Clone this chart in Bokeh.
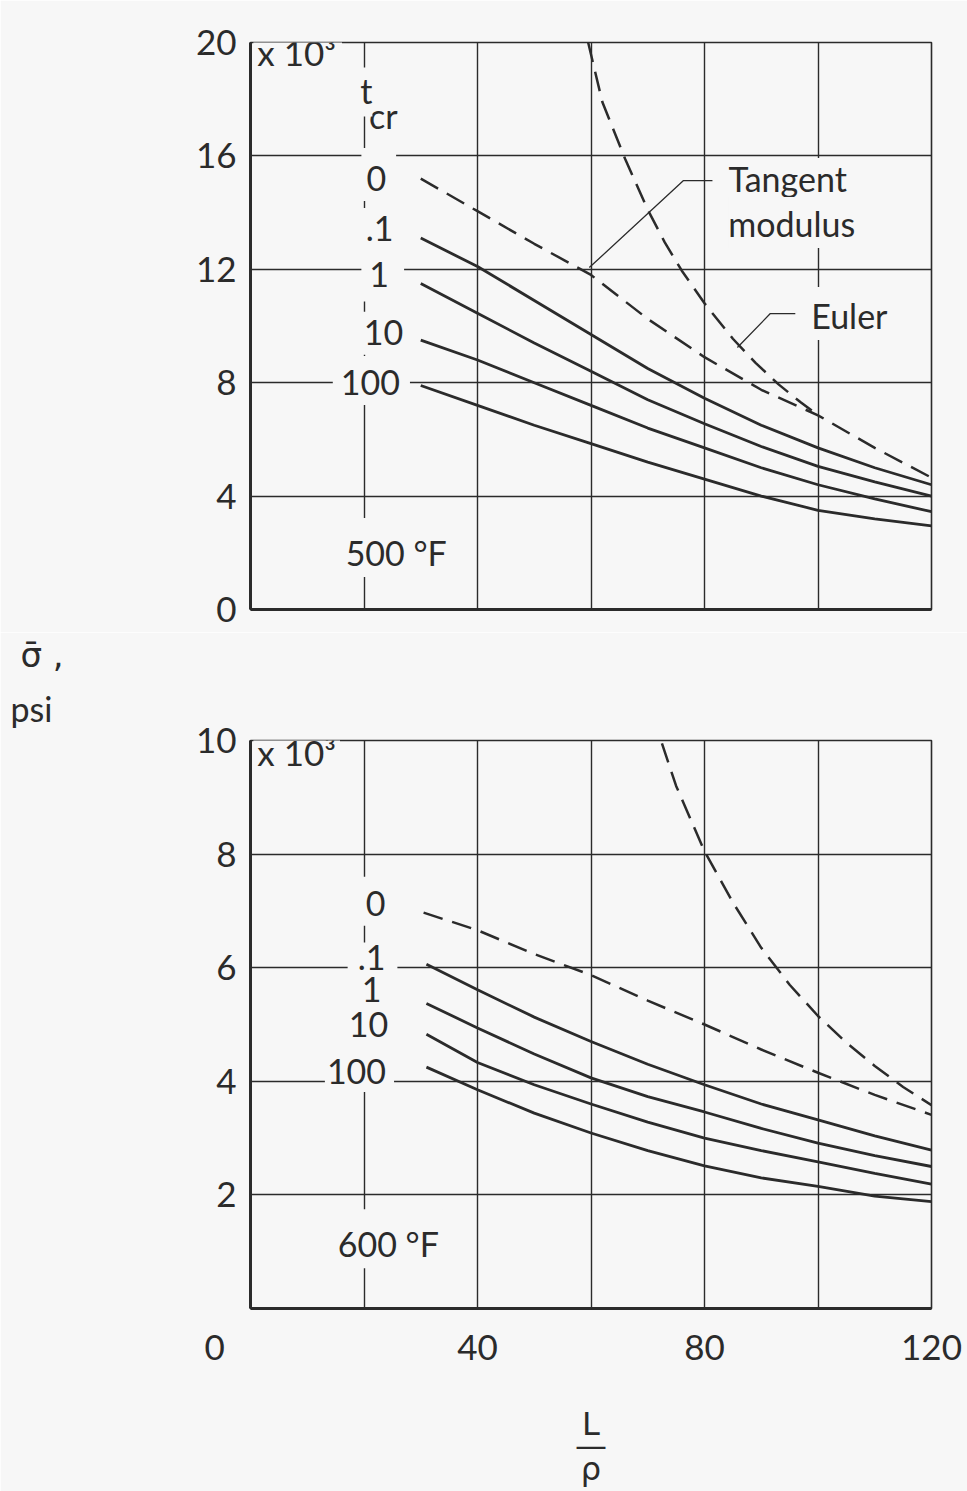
from bokeh.plotting import figure
from bokeh.layouts import column
from bokeh.models import Range1d, FixedTicker, Label, Title
from bokeh.embed import file_html
from bokeh.resources import INLINE

# ---------------- data ----------------
# upper panel: 500 F   (L/rho, sigma-bar in psi)
top_x = [30, 40, 50, 60, 70, 80, 90, 100, 110, 120]
top_tangent = [15200, 14050, 12900, 11800, 10250, 8900, 7750, 6850, 5700, 4650]
top_t01 = [13100, 12100, 10900, 9700, 8500, 7450, 6500, 5700, 5000, 4400]
top_t1 = [11500, 10450, 9400, 8400, 7400, 6550, 5750, 5050, 4500, 4000]
top_t10 = [9500, 8800, 8000, 7200, 6400, 5700, 5000, 4400, 3900, 3450]
top_t100 = [7900, 7200, 6500, 5850, 5200, 4600, 4000, 3500, 3200, 2950]
top_euler_x = [59.5, 62, 66, 70, 73, 76, 80, 85, 89, 93, 97, 100]
top_euler = [20000, 17900, 15900, 14100, 12950, 11950, 10800, 9550, 8700, 7950, 7300, 6850]

# lower panel: 600 F
bot_tan_x = [30.5, 40, 50, 60, 70, 80, 90, 100, 110, 120]
bot_tangent = [6970, 6660, 6240, 5870, 5420, 5000, 4560, 4150, 3760, 3410]
bot_x = [31, 40, 50, 60, 70, 80, 90, 100, 110, 120]
bot_t01 = [6060, 5610, 5130, 4700, 4300, 3940, 3600, 3320, 3040, 2790]
bot_t1 = [5370, 4940, 4480, 4060, 3730, 3460, 3170, 2910, 2690, 2500]
bot_t10 = [4830, 4330, 3940, 3600, 3280, 3000, 2780, 2580, 2380, 2190]
bot_t100 = [4250, 3850, 3440, 3090, 2780, 2510, 2300, 2150, 1980, 1880]
bot_euler_x = [72.5, 75, 80, 85, 90, 95, 100, 105, 110, 115, 120]
bot_euler = [9950, 9200, 8050, 7150, 6350, 5700, 5150, 4680, 4270, 3900, 3580]

top_yticks = [0, 4000, 8000, 12000, 16000, 20000]
top_ylabels = ["0", "4", "8", "12", "16", "20"]
bot_yticks = [2000, 4000, 6000, 8000, 10000]
bot_ylabels = ["2", "4", "6", "8", "10"]
x_ticks = [0, 40, 80, 120]
x_labels = ["0" + "\u00a0" * 8, "40", "80", "120"]
grid_x = [20, 40, 60, 80, 100]

t_cr_labels = ["0", ".1", "1", "10", "100"]

# ---------------- styling ----------------
BG = "#f7f7f7"
INK = "#2b2b2b"
FONT = "Lato"


def make_fig(height, ymax, btop, bbot, yticks, ylabels, grid_y):
    p = figure(width=967, height=height, title=None,
               x_range=Range1d(0, 120), y_range=Range1d(0, ymax),
               output_backend="svg", toolbar_location=None,
               min_border_left=250, min_border_right=36,
               min_border_top=btop, min_border_bottom=bbot,
               background_fill_color=BG, border_fill_color=BG)
    p.outline_line_color = INK
    p.outline_line_width = 1.6
    p.xgrid.ticker = FixedTicker(ticks=grid_x)
    p.ygrid.ticker = FixedTicker(ticks=grid_y)
    p.grid.grid_line_color = INK
    p.grid.grid_line_width = 1.4
    p.grid.grid_line_alpha = 1.0
    for ax in (p.xaxis[0], p.yaxis[0]):
        ax.axis_line_color = INK
        ax.axis_line_width = 3
        ax.major_tick_line_color = None
        ax.minor_tick_line_color = None
        ax.major_tick_out = 0
        ax.minor_tick_out = 0
        ax.major_label_text_font = FONT
        ax.major_label_text_font_size = "35px"
        ax.major_label_text_color = INK
    p.yaxis.ticker = FixedTicker(ticks=yticks)
    p.yaxis.major_label_overrides = {t: l for t, l in zip(yticks, ylabels)}
    p.yaxis.major_label_standoff = 14
    return p


def lab(p, x, y, text, size="34px", align="center", pad=4, font=FONT):
    p.add_layout(Label(x=x, y=y, text=text, text_font=font, text_font_size=size,
                       text_color=INK, text_align=align, text_baseline="middle",
                       background_fill_color=BG, padding=pad))


def side_title(p, text, side, align="left", offset=0, size="34px", font=FONT,
               style="normal", standoff=0):
    p.add_layout(Title(text=text, align=align, offset=offset, text_font=font,
                       text_font_size=size, text_font_style=style,
                       text_color=INK, standoff=standoff), side)


def curves(p, x_sol, sols, x_tan, tan, x_eu, eu):
    for ys in sols:
        p.line(x_sol, ys, line_color=INK, line_width=2.8)
    p.line(x_tan, tan, line_color=INK, line_width=2.5, line_dash="20 10")
    p.line(x_eu, eu, line_color=INK, line_width=2.5, line_dash="20 10")


# ---------------- upper panel ----------------
p1 = make_fig(632, 20000, 42, 23, top_yticks, top_ylabels, [4000, 8000, 12000, 16000])
p1.xaxis.major_label_text_color = None
p1.xaxis.ticker = FixedTicker(ticks=[])
p1.xaxis.major_label_standoff = 0
curves(p1, top_x, [top_t01, top_t1, top_t10, top_t100], top_x, top_tangent, top_euler_x, top_euler)

# leader lines
p1.line([59.7, 76.3, 81.4], [12060, 15130, 15130], line_color=INK, line_width=1.3)
p1.line([85.8, 91.6, 96.0], [9240, 10440, 10440], line_color=INK, line_width=1.3)

lab(p1, 0.5, 19850, "x 10³", size="35px", align="left", pad=(4, 6, 14, 4))
lab(p1, 23.4, 17600, "cr", pad=(2, 2, 10, 0))
lab(p1, 19.7, 18250, "t", pad=(8, 0, 2, 6))
top_lab_xy = [(22.6, 15340), (22.4, 13370), (23.3, 11850), (22.9, 9740), (21.3, 8080)]
top_pads = [(5, 10, 18, 10), (16, 12, 8, 12), (8, 15, 16, 15), (16, 10, 8, 10), (8, 10, 14, 10)]
for (lx, ly), t, pd in zip(top_lab_xy, t_cr_labels, top_pads):
    lab(p1, lx, ly, t, pad=pd)
lab(p1, 24.8, 2190, "500 °F", pad=(14, 4, 14, 4))
lab(p1, 83.7, 15130, "Tangent", align="left", pad=(3, 4, 0, 4))
lab(p1, 84.2, 13650, "modulus", align="left", pad=(0, 4, 6, 4))
lab(p1, 97.4, 10440, "Euler", align="left", pad=(8, 4, 8, 4))

# ---------------- lower panel ----------------
p2 = make_fig(859, 10000, 108, 183, bot_yticks, bot_ylabels, [2000, 4000, 6000, 8000])
p2.xaxis.ticker = FixedTicker(ticks=x_ticks)
p2.xaxis.major_label_overrides = {t: l for t, l in zip(x_ticks, x_labels)}
p2.xaxis.major_label_standoff = 16
p2.xaxis.axis_label = "L\n\u2014\nρ"
p2.xaxis.axis_label_text_font = "DejaVu Sans"
p2.xaxis.axis_label_text_font_size = "32px"
p2.xaxis.axis_label_text_font_style = "normal"
p2.xaxis.axis_label_text_color = INK
p2.xaxis.axis_label_text_line_height = 0.6
p2.xaxis.axis_label_standoff = 35
curves(p2, bot_x, [bot_t01, bot_t1, bot_t10, bot_t100], bot_tan_x, bot_tangent, bot_euler_x, bot_euler)

# y-axis name, between the two panels (nearest to the lower frame first)
side_title(p2, "psi", "above", offset=-240, size="34px", standoff=23)
side_title(p2, "σ\u0304 ,", "above", offset=-230, font="DejaVu Sans", size="34px", standoff=0)

lab(p2, 0.5, 9880, "x 10³", size="35px", align="left", pad=(4, 4, 14, 4))
bot_lab_xy = [(21.85, 7170), (21.5, 6100), (22.2, 5530), (21.5, 4930), (19.2, 4260)]
bot_pads = [(12, 10, 14, 10), (10, 12, 2, 12), (2, 12, 2, 12), (2, 10, 2, 10), (2, 8, 18, 8)]
for (lx, ly), t, pd in zip(bot_lab_xy, t_cr_labels, bot_pads):
    lab(p2, lx, ly, t, pad=pd)
lab(p2, 23.4, 1230, "600 °F", pad=(14, 4, 14, 4))

layout = column(p1, p2, spacing=0)
open("out.html", "w").write(file_html(layout, INLINE))
